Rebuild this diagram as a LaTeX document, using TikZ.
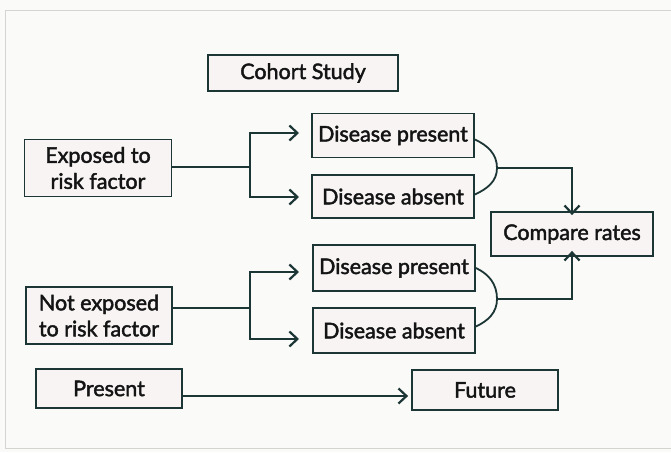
\documentclass[tikz,border=0pt]{standalone}
\usepackage{fontspec}
\setmainfont{Lato}[FakeBold=2]
\usetikzlibrary{arrows.meta}
\definecolor{ink}{HTML}{1C3636}
\definecolor{boxfill}{HTML}{F8F4F4}
\definecolor{paper}{HTML}{FAFAF8}
\definecolor{frame}{HTML}{D4D4D0}
\tikzset{
  box/.style={draw=ink, line width=1.8pt, fill=boxfill, inner sep=0pt,
    align=center, font=\fontsize{21.5}{26}\selectfont, text=black!92},
  link/.style={draw=ink, line width=1.8pt},
  arr/.style={link, -{Straight Barb[length=8pt,width=15pt,line width=2.2pt]}}
}
\begin{document}
\begin{tikzpicture}[x=1pt,y=-1pt]
  % page and its faint outer frame
  \fill[paper] (0,0) rectangle (671,452);
  \useasboundingbox (0,0) rectangle (671,452);
  \draw[frame, line width=1pt] (5,11) -- (671,11);
  \draw[frame, line width=1pt] (5,11) -- (5,448) -- (671,448);

  % boxes
  \node[box, minimum width=190, minimum height=36] (cohort) at (303,73) {Cohort Study};
  \node[box, minimum width=147, minimum height=57] (exp) at (98,168) {Exposed to\\risk factor};
  \node[box, minimum width=162, minimum height=44] (dp1) at (393,135.5) {Disease present};
  \node[box, minimum width=162, minimum height=43] (da1) at (393,196.5) {Disease absent};
  \node[box, minimum width=162, minimum height=44] (cmp) at (572,234) {Compare rates};
  \node[box, minimum width=162, minimum height=46] (dp2) at (394,268) {Disease present};
  \node[box, minimum width=162, minimum height=45] (da2) at (394,330.5) {Disease absent};
  \node[box, minimum width=146, minimum height=57] (nexp) at (99,315.5) {Not exposed\\to risk factor};
  \node[box, minimum width=146, minimum height=39] (pres) at (109,388.5) {Present};
  \node[box, minimum width=146, minimum height=40] (fut) at (485,390) {Future};

  % branch points and arrow ends
  \coordinate (j1) at (250,167);
  \coordinate (j2) at (250,308);
  \coordinate (t1) at (299,133);
  \coordinate (t2) at (299,197);
  \coordinate (t3) at (299,272);
  \coordinate (t4) at (299,339);

  % exposed group
  \draw[link] (exp.east |- j1) -- (j1);
  \draw[arr] (j1) |- (t1);
  \draw[arr] (j1) |- (t2);

  % not-exposed group
  \draw[link] (nexp.east |- j2) -- (j2);
  \draw[arr] (j2) |- (t3);
  \draw[arr] (j2) |- (t4);

  % brackets joining each pair of outcomes
  \coordinate (b1) at (497,168);
  \coordinate (b2) at (497,299);
  \draw[link] ([yshift=-4]dp1.east) to[out=-25,in=90] (b1) to[out=-90,in=25] ([yshift=2]da1.east);
  \draw[link] ([yshift=0]dp2.east) to[out=-25,in=90] (b2) to[out=-90,in=25] ([yshift=4]da2.east);

  % into the comparison
  \draw[arr] (b1) -| ([yshift=-4]cmp.north);
  \draw[arr] (b2) -| ([yshift=6]cmp.south);

  % time line
  \draw[arr] (pres.east |- 0,396) -- ([xshift=-3]fut.west |- 0,396);
\end{tikzpicture}
\end{document}
